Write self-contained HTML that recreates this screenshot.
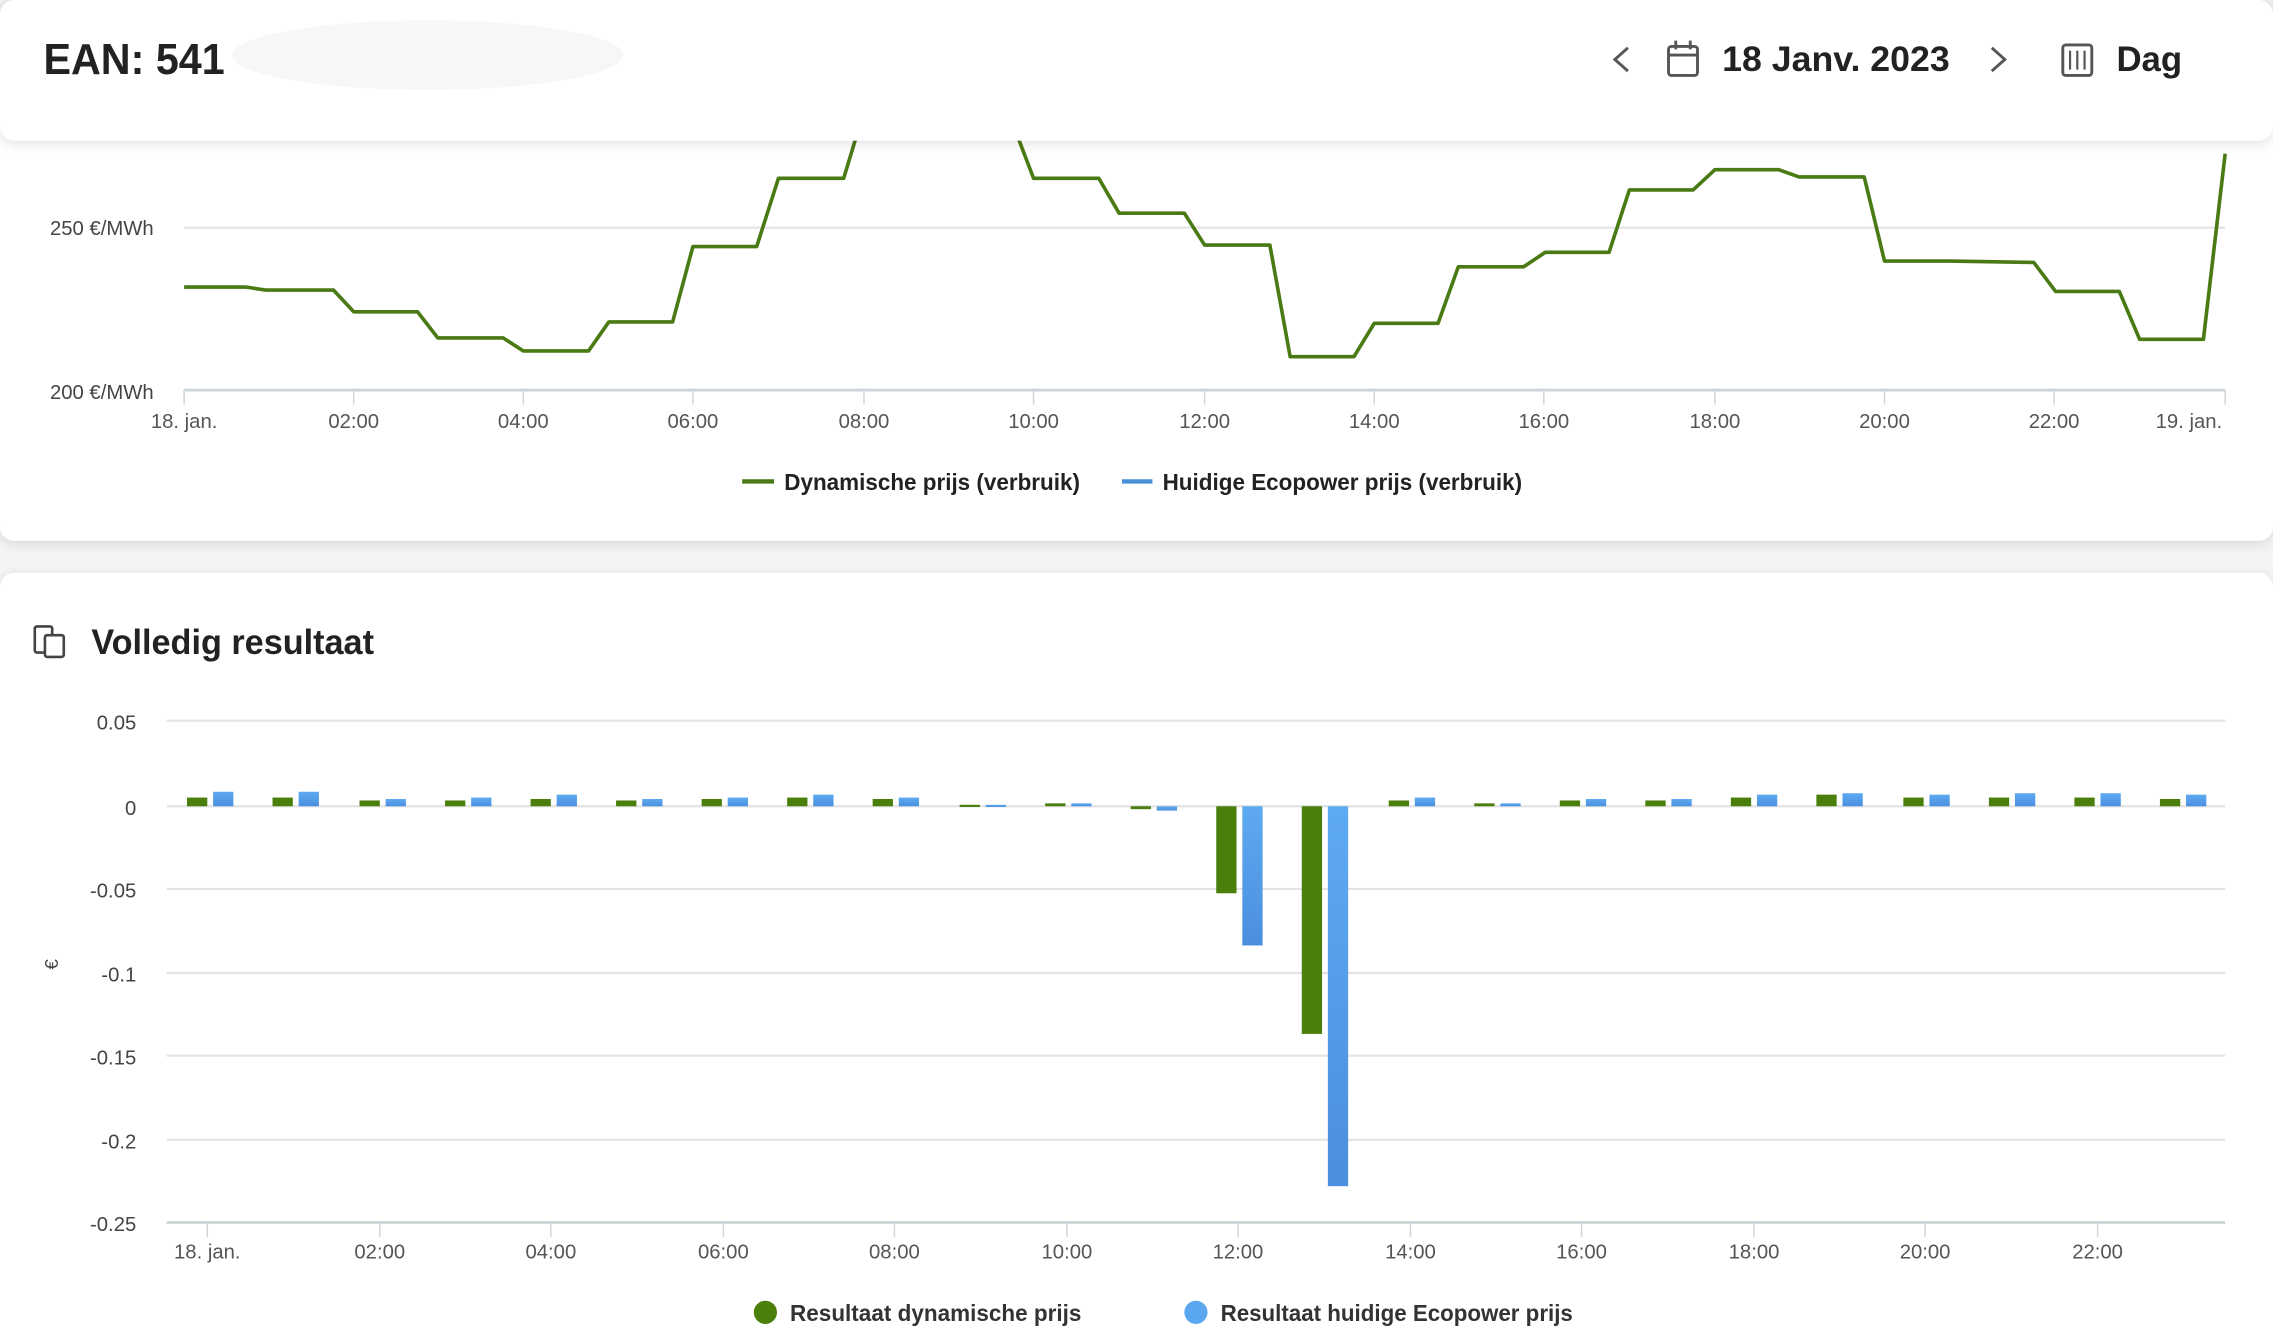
<!DOCTYPE html>
<html><head><meta charset="utf-8"><style>
html,body{margin:0;padding:0;background:#f4f4f4;}
svg{display:block;}
text{font-family:"Liberation Sans",sans-serif;}
</style></head><body>
<svg width="2273" height="1337" viewBox="0 0 1568 922" preserveAspectRatio="none" xmlns="http://www.w3.org/2000/svg">
<defs>
<linearGradient id="bg" x1="0" y1="0" x2="0" y2="1"><stop offset="0" stop-color="#5eaaf2"/><stop offset="1" stop-color="#4a8fde"/></linearGradient>
<filter id="sh" x="-5%" y="-20%" width="110%" height="150%"><feDropShadow dx="0" dy="2" stdDeviation="4" flood-color="#000" flood-opacity="0.12"/></filter>
</defs>
<rect x="0" y="0" width="1568" height="922" fill="#f4f4f4"/>
<rect x="0" y="0" width="1568" height="373" rx="10" fill="#fff" filter="url(#sh)"/>
<line x1="127" y1="157" x2="1535" y2="157" stroke="#e3e3e3" stroke-width="1.5"/>
<line x1="127" y1="269" x2="1535" y2="269" stroke="#cfd4d8" stroke-width="2"/>
<g stroke="#cfd4d8" stroke-width="1">
<line x1="127" y1="269" x2="127" y2="279"/><line x1="244" y1="269" x2="244" y2="279"/><line x1="361" y1="269" x2="361" y2="279"/><line x1="478" y1="269" x2="478" y2="279"/><line x1="596" y1="269" x2="596" y2="279"/><line x1="713" y1="269" x2="713" y2="279"/><line x1="831" y1="269" x2="831" y2="279"/><line x1="948" y1="269" x2="948" y2="279"/><line x1="1065" y1="269" x2="1065" y2="279"/><line x1="1183" y1="269" x2="1183" y2="279"/><line x1="1300" y1="269" x2="1300" y2="279"/><line x1="1417" y1="269" x2="1417" y2="279"/><line x1="1535" y1="269" x2="1535" y2="279"/>
</g>
<g font-size="14" fill="#444" text-anchor="end">
<text x="106" y="162">250 €/MWh</text><text x="106" y="275">200 €/MWh</text>
</g>
<g font-size="14" fill="#555" text-anchor="middle">
<text x="127" y="295">18. jan.</text><text x="244" y="295">02:00</text><text x="361" y="295">04:00</text><text x="478" y="295">06:00</text><text x="596" y="295">08:00</text><text x="713" y="295">10:00</text><text x="831" y="295">12:00</text><text x="948" y="295">14:00</text><text x="1065" y="295">16:00</text><text x="1183" y="295">18:00</text><text x="1300" y="295">20:00</text><text x="1417" y="295">22:00</text><text x="1510" y="295">19. jan.</text>
</g>
<path d="M127,198 L170,198 L183,200 L230,200 L244,215 L288,215 L302,233 L347,233 L361,242 L406,242 L420,222 L464,222 L478,170 L522,170 L537,123 L582,123 L601,60 L640,40 L655,40 L689,60 L713,123 L758,123 L772,147 L817,147 L831,169 L876,169 L890,246 L934,246 L948,223 L992,223 L1006,184 L1051,184 L1066,174 L1110,174 L1124,131 L1168,131 L1183,117 L1227,117 L1241,122 L1286,122 L1300,180 L1345,180 L1403,181 L1418,201 L1462,201 L1476,234 L1520,234 L1535,106" fill="none" stroke="#4a7a14" stroke-width="2.5" stroke-linejoin="round"/>
<line x1="512" y1="332" x2="534" y2="332" stroke="#4a7a14" stroke-width="3"/>
<text x="541" y="338" font-size="16" font-weight="bold" fill="#222" textLength="204" lengthAdjust="spacingAndGlyphs">Dynamische prijs (verbruik)</text>
<line x1="774" y1="332" x2="795" y2="332" stroke="#4a90d9" stroke-width="3"/>
<text x="802" y="338" font-size="16" font-weight="bold" fill="#222" textLength="248" lengthAdjust="spacingAndGlyphs">Huidige Ecopower prijs (verbruik)</text>
<rect x="0" y="0" width="1568" height="97" rx="10" fill="#fff" filter="url(#sh)"/>
<ellipse cx="295" cy="38" rx="135" ry="24" fill="#f7f7f7"/>
<text x="30" y="51" font-size="30" font-weight="bold" fill="#222" textLength="125" lengthAdjust="spacingAndGlyphs">EAN: 541</text>
<path d="M1123,33 L1114,41 L1123,49" fill="none" stroke="#555" stroke-width="2"/>
<rect x="1151" y="32" width="20" height="20" rx="2" fill="none" stroke="#555" stroke-width="2"/>
<line x1="1151" y1="38" x2="1171" y2="38" stroke="#555" stroke-width="2"/>
<line x1="1156" y1="28" x2="1156" y2="34" stroke="#555" stroke-width="2"/><line x1="1166" y1="28" x2="1166" y2="34" stroke="#555" stroke-width="2"/>
<text x="1188" y="49" font-size="24" font-weight="bold" fill="#222" textLength="157" lengthAdjust="spacingAndGlyphs">18 Janv. 2023</text>
<path d="M1374,33 L1383,41 L1374,49" fill="none" stroke="#555" stroke-width="2"/>
<rect x="1423" y="31" width="20" height="21" rx="2" fill="none" stroke="#555" stroke-width="2"/>
<g stroke="#555" stroke-width="1.5"><line x1="1428" y1="35" x2="1428" y2="48"/><line x1="1433" y1="35" x2="1433" y2="48"/><line x1="1438" y1="35" x2="1438" y2="48"/></g>
<text x="1460" y="49" font-size="24" font-weight="bold" fill="#222">Dag</text>
<rect x="0" y="395" width="1568" height="540" rx="10" fill="#fff" filter="url(#sh)"/>
<rect x="24" y="432" width="12" height="18" rx="1.5" fill="none" stroke="#444" stroke-width="1.8"/>
<rect x="31" y="438" width="13" height="15" rx="1.5" fill="#fff" stroke="#444" stroke-width="1.8"/>
<text x="63" y="451" font-size="24" font-weight="bold" fill="#222" textLength="195" lengthAdjust="spacingAndGlyphs">Volledig resultaat</text>
<g stroke="#e3e3e3" stroke-width="1.5">
<line x1="115" y1="497" x2="1535" y2="497"/><line x1="115" y1="556" x2="1535" y2="556"/><line x1="115" y1="613" x2="1535" y2="613"/><line x1="115" y1="671" x2="1535" y2="671"/><line x1="115" y1="728" x2="1535" y2="728"/><line x1="115" y1="786" x2="1535" y2="786"/>
</g>
<line x1="115" y1="843" x2="1535" y2="843" stroke="#cfd4d8" stroke-width="2"/>
<g font-size="14" fill="#444" text-anchor="end">
<text x="94" y="503">0.05</text><text x="94" y="562">0</text><text x="94" y="619">-0.05</text><text x="94" y="677">-0.1</text><text x="94" y="734">-0.15</text><text x="94" y="792">-0.2</text><text x="94" y="849">-0.25</text>
</g>
<text x="45" y="670" font-size="13" fill="#444" text-anchor="middle" transform="rotate(-90 40 670)">€</text>
<g stroke="#cfd4d8" stroke-width="1">
<line x1="143" y1="843" x2="143" y2="853"/><line x1="262" y1="843" x2="262" y2="853"/><line x1="380" y1="843" x2="380" y2="853"/><line x1="499" y1="843" x2="499" y2="853"/><line x1="617" y1="843" x2="617" y2="853"/><line x1="736" y1="843" x2="736" y2="853"/><line x1="854" y1="843" x2="854" y2="853"/><line x1="973" y1="843" x2="973" y2="853"/><line x1="1091" y1="843" x2="1091" y2="853"/><line x1="1210" y1="843" x2="1210" y2="853"/><line x1="1328" y1="843" x2="1328" y2="853"/><line x1="1447" y1="843" x2="1447" y2="853"/>
</g>
<g font-size="14" fill="#555" text-anchor="middle">
<text x="143" y="868">18. jan.</text><text x="262" y="868">02:00</text><text x="380" y="868">04:00</text><text x="499" y="868">06:00</text><text x="617" y="868">08:00</text><text x="736" y="868">10:00</text><text x="854" y="868">12:00</text><text x="973" y="868">14:00</text><text x="1091" y="868">16:00</text><text x="1210" y="868">18:00</text><text x="1328" y="868">20:00</text><text x="1447" y="868">22:00</text>
</g>
<g fill="#4a7f0c">
<rect x="129" y="550" width="14" height="6"/><rect x="188" y="550" width="14" height="6"/><rect x="248" y="552" width="14" height="4"/><rect x="307" y="552" width="14" height="4"/><rect x="366" y="551" width="14" height="5"/><rect x="425" y="552" width="14" height="4"/><rect x="484" y="551" width="14" height="5"/><rect x="543" y="550" width="14" height="6"/><rect x="602" y="551" width="14" height="5"/><rect x="662" y="555" width="14" height="1.5"/><rect x="721" y="554" width="14" height="2"/><rect x="780" y="556" width="14" height="2"/><rect x="839" y="556" width="14" height="60"/><rect x="898" y="556" width="14" height="157"/><rect x="958" y="552" width="14" height="4"/><rect x="1017" y="554" width="14" height="2"/><rect x="1076" y="552" width="14" height="4"/><rect x="1135" y="552" width="14" height="4"/><rect x="1194" y="550" width="14" height="6"/><rect x="1253" y="548" width="14" height="8"/><rect x="1313" y="550" width="14" height="6"/><rect x="1372" y="550" width="14" height="6"/><rect x="1431" y="550" width="14" height="6"/><rect x="1490" y="551" width="14" height="5"/>
</g>
<g fill="url(#bg)">
<rect x="147" y="546" width="14" height="10"/><rect x="206" y="546" width="14" height="10"/><rect x="266" y="551" width="14" height="5"/><rect x="325" y="550" width="14" height="6"/><rect x="384" y="548" width="14" height="8"/><rect x="443" y="551" width="14" height="5"/><rect x="502" y="550" width="14" height="6"/><rect x="561" y="548" width="14" height="8"/><rect x="620" y="550" width="14" height="6"/><rect x="680" y="555" width="14" height="1.5"/><rect x="739" y="554" width="14" height="2"/><rect x="798" y="556" width="14" height="3"/><rect x="857" y="556" width="14" height="96"/><rect x="916" y="556" width="14" height="262"/><rect x="976" y="550" width="14" height="6"/><rect x="1035" y="554" width="14" height="2"/><rect x="1094" y="551" width="14" height="5"/><rect x="1153" y="551" width="14" height="5"/><rect x="1212" y="548" width="14" height="8"/><rect x="1271" y="547" width="14" height="9"/><rect x="1331" y="548" width="14" height="8"/><rect x="1390" y="547" width="14" height="9"/><rect x="1449" y="547" width="14" height="9"/><rect x="1508" y="548" width="14" height="8"/>
</g>
<circle cx="528" cy="905" r="8" fill="#4a7f0c"/>
<text x="545" y="911" font-size="16" font-weight="bold" fill="#333" textLength="201" lengthAdjust="spacingAndGlyphs">Resultaat dynamische prijs</text>
<circle cx="825" cy="905" r="8" fill="#5aa7f0"/>
<text x="842" y="911" font-size="16" font-weight="bold" fill="#333" textLength="243" lengthAdjust="spacingAndGlyphs">Resultaat huidige Ecopower prijs</text>
</svg>
</body></html>
